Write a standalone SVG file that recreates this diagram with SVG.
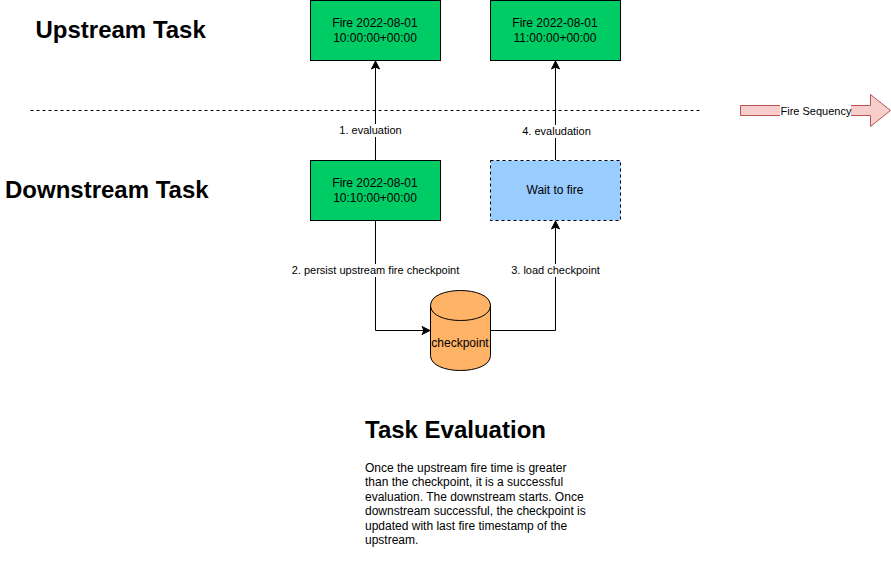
<svg xmlns="http://www.w3.org/2000/svg" width="891" height="581" viewBox="0 0 891 581">
<style>
text{font-family:"Liberation Sans",Arial,sans-serif;fill:#000}
.n{font-size:12px;text-anchor:middle}
.l{font-size:11px;text-anchor:middle}
.h{font-size:24px;font-weight:bold}
.g{fill:#00cc66;stroke:#000;stroke-width:1}
.c{fill:none;stroke:#000;stroke-width:1}
.bg{fill:#fff}
</style>
<defs>
<marker id="a" markerUnits="userSpaceOnUse" markerWidth="10" markerHeight="10" refX="9" refY="4.5" orient="auto"><path d="M1 0.5L9 4.5L1 8.5L3 4.5Z" fill="#000" stroke="#000" stroke-width="1"/></marker>
</defs>
<rect width="891" height="581" fill="#fff"/>
<g id="connectors">
<path class="c" d="M30.500 110.500H700" stroke-dasharray="3 3"/>
<path class="c" d="M375.500 160V61" marker-end="url(#a)"/>
<path class="c" d="M555.500 160V61" marker-end="url(#a)"/>
<path class="c" d="M375.500 220V330.500H430" marker-end="url(#a)"/>
<path class="c" d="M491 330.500H555.500V221" marker-end="url(#a)"/>
<g id="edge-labels">
<rect class="bg" x="337" y="124" width="67" height="13"/><text class="l" x="370.500" y="134">1. evaluation</text>
<rect class="bg" x="521" y="125" width="70" height="13"/><text class="l" x="556.500" y="135">4. evaludation</text>
<rect class="bg" x="291" y="264" width="170" height="13"/><text class="l" x="375.500" y="274">2. persist upstream fire checkpoint</text>
<rect class="bg" x="510" y="264" width="92" height="13"/><text class="l" x="555.500" y="274">3. load checkpoint</text>
</g>
</g>
<g id="upstream-title"><text class="h" x="35.500" y="38">Upstream Task</text></g>
<g id="downstream-title"><text class="h" x="5" y="198">Downstream Task</text></g>
<g id="fire-1000"><rect class="g" x="310.500" y="0.500" width="130" height="60"/><text class="n" x="375" y="26.500">Fire 2022-08-01</text><text class="n" x="375" y="42">10:00:00+00:00</text></g>
<g id="fire-1100"><rect class="g" x="490.500" y="0.500" width="130" height="60"/><text class="n" x="555" y="26.500">Fire 2022-08-01</text><text class="n" x="555" y="42">11:00:00+00:00</text></g>
<g id="fire-1010"><rect class="g" x="310.500" y="160.500" width="130" height="60"/><text class="n" x="375" y="186.500">Fire 2022-08-01</text><text class="n" x="375" y="202">10:10:00+00:00</text></g>
<g id="wait"><rect x="490.500" y="160.500" width="130" height="60" fill="#99ccff" stroke="#000" stroke-dasharray="3 3"/><text class="n" x="555" y="194">Wait to fire</text></g>
<g id="checkpoint"><path d="M430.500 305.500C430.500 285.500 490.500 285.500 490.500 305.500V355.500C490.500 375.500 430.500 375.500 430.500 355.500Z" fill="#ffb366" stroke="#000"/><path class="c" d="M430.500 305.500C430.500 325.500 490.500 325.500 490.500 305.500"/><text class="n" x="460" y="347">checkpoint</text></g>
<g id="fire-sequence"><path d="M740.500 105.500H870.500V94.500L890.500 110.500L870.500 126.500V115.500H740.500Z" fill="#f8cecc" stroke="#b85450"/><rect class="bg" x="780" y="103" width="71" height="15"/><text x="780.500" y="114.500" font-size="11">Fire Sequency</text></g>
<g id="task-evaluation"><text x="365" y="438" font-size="24" font-weight="bold">Task Evaluation</text>
<g font-size="12"><text x="365" y="472">Once the upstream fire time is greater</text><text x="365" y="486">than the checkpoint, it is a successful</text><text x="365" y="501">evaluation. The downstream starts. Once</text><text x="365" y="515">downstream successful, the checkpoint is</text><text x="365" y="530">updated with last fire timestamp of the</text><text x="365" y="544">upstream.</text></g></g>
</svg>
